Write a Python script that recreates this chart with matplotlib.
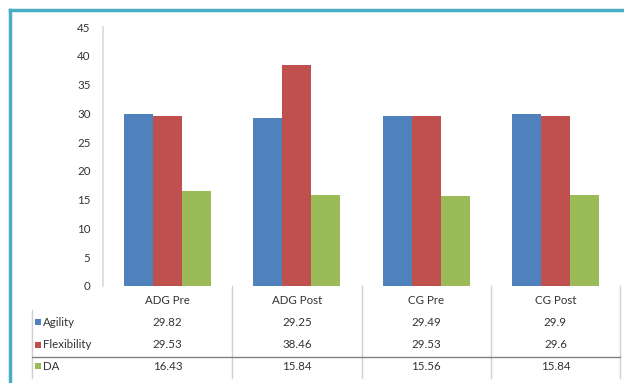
import matplotlib
matplotlib.use('Agg')
import matplotlib.pyplot as plt
from matplotlib.lines import Line2D
from matplotlib.patches import Rectangle
import numpy as np

categories = ['ADG Pre', 'ADG Post', 'CG Pre', 'CG Post']
series_names = ['Agility', 'Flexibility', 'DA']
agility = [29.82, 29.25, 29.49, 29.9]
flexibility = [29.53, 38.46, 29.53, 29.6]
da = [16.43, 15.84, 15.56, 15.84]
table_text = [['29.82', '29.25', '29.49', '29.9'],
              ['29.53', '38.46', '29.53', '29.6'],
              ['16.43', '15.84', '15.56', '15.84']]
yticks = [0, 5, 10, 15, 20, 25, 30, 35, 40, 45]

colors = ['#4F81BD', '#C0504D', '#9BBB59']
W, H = 624, 383
plt.rcParams['font.family'] = ['Lato', 'DejaVu Sans']

fig = plt.figure(figsize=(W / 100, H / 100), dpi=100)
fig.patch.set_facecolor('white')

def fx(px):
    return px / W

def fy(py):
    return 1 - py / H

ax = fig.add_axes([fx(103), fy(286), fx(620) - fx(103), fy(27) - fy(286)])

x = np.arange(len(categories))
bw = 0.225
for i, vals in enumerate([agility, flexibility, da]):
    ax.bar(x + (i - 1) * bw, vals, width=bw, color=colors[i], edgecolor='none')

ax.set_xlim(-0.5, len(categories) - 0.5)
ax.set_ylim(0, 45)
ax.set_yticks(yticks)
ax.set_yticklabels([str(t) for t in yticks], fontsize=8.3, color='#333333')
ax.tick_params(axis='y', length=0, pad=9)
ax.set_xticks([])
for s in ['top', 'right', 'bottom']:
    ax.spines[s].set_visible(False)
ax.spines['left'].set_color('#D9D9D9')
ax.spines['left'].set_linewidth(1.2)

# data table below the chart
col_px = [103 + (620 - 103) * k / 4 for k in range(5)]
for k, cx in enumerate(col_px):
    if k == 0:
        continue
    fig.add_artist(Line2D([fx(cx), fx(cx)], [fy(286), fy(378)], color='#D0D0D0', lw=1))
fig.add_artist(Line2D([fx(32), fx(32)], [fy(310), fy(378)], color='#D0D0D0', lw=1))
fig.add_artist(Line2D([fx(32), fx(620)], [fy(357), fy(357)], color='#808080', lw=1))

row_y = [322, 345, 366]
for j, cat in enumerate(categories):
    cx = (col_px[j] + col_px[j + 1]) / 2
    fig.text(fx(cx), fy(300), cat, ha='center', va='center', fontsize=8.3, color='#333333')
    for r in range(3):
        fig.text(fx(cx), fy(row_y[r]), table_text[r][j], ha='center', va='center',
                 fontsize=8.3, color='#333333')

for r, name in enumerate(series_names):
    fig.add_artist(Rectangle((fx(35), fy(row_y[r] + 3)), fx(6), 6 / H,
                             facecolor=colors[r], edgecolor='none'))
    fig.text(fx(43), fy(row_y[r]), name, ha='left', va='center', fontsize=8.3, color='#333333')

# teal frame on top and left
fig.add_artist(Line2D([fx(9.5), fx(640)], [fy(9.5), fy(9.5)], color='#4BACC6', lw=2.5))
fig.add_artist(Line2D([fx(9.5), fx(9.5)], [fy(9.5), fy(400)], color='#4BACC6', lw=2.5))

fig.savefig('out.png', dpi=100)
